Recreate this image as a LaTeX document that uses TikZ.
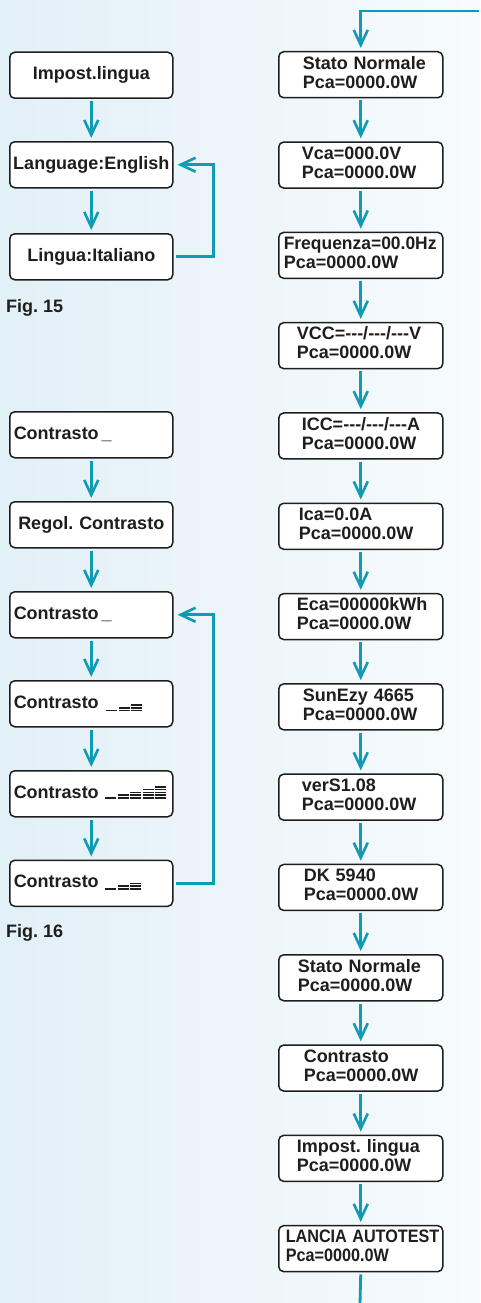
\documentclass[tikz,border=0pt]{standalone}
\usepackage{fontspec}
\setmainfont{Liberation Sans}
\usepackage{graphicx}
\usetikzlibrary{arrows.meta}
\definecolor{teal1}{RGB}{16,155,180}
\definecolor{bgL}{RGB}{226,240,247}
\definecolor{bgR}{RGB}{247,251,253}
\definecolor{ink}{RGB}{30,30,30}
\frenchspacing
\newcommand{\dsh}{\mbox{-}}
\newcommand{\tdsh}{\dsh\dsh\dsh}
\newcommand{\rtxt}[3]{\hspace*{#1pt}\begin{tabular}{@{}l@{}}#2\\#3\end{tabular}}
\newcommand{\ctbars}[3]{%
  \foreach \g in {1,...,#3}{%
    \foreach \k in {1,...,\g}{%
      \fill[ink] ({#1+(\g-1)*12.5},{#2-(\k-1)*2.8-0.8}) rectangle ++(11,1.6);
    }%
  }%
}
\begin{document}
\begin{tikzpicture}[x=1pt,y=-1pt,
  every node/.style={font=\fontsize{18}{19}\bfseries\selectfont, text=ink},
  box/.style={draw=ink, line width=1.5pt, fill=white, rounded corners=5pt,
    anchor=north west, minimum height=46pt, inner sep=0pt},
  cbox/.style={box, text width=163pt, align=center, text height=13pt, text depth=4.5pt},
  lbox/.style={box, text width=163pt, align=left, text height=13pt, text depth=4.5pt},
  rbox/.style={box, text width=164pt, align=left},
  figlab/.style={anchor=base west, inner sep=0pt},
  link/.style={draw=teal1, line width=2.8pt, line join=miter},
  arr/.style={link, -{Straight Barb[length=15pt,width=14pt,line width=2.6pt]},
    shorten <=2pt, shorten >=3pt}
]
\useasboundingbox (0,0) rectangle (480,1303);
\shade[left color=bgL, right color=bgR] (0,0) rectangle (480,1303);

% ---- Fig. 15
\node[cbox] (a1) at (9,51.5) {Impost.lingua};
\node[cbox] (a2) at (9,141) {Language:English};
\node[cbox] (a3) at (9,233) {Lingua:Italiano};
\node[figlab] (f15) at (6,312.5) {Fig. 15};
\draw[arr] (a1.south) -- (a2.north);
\draw[arr] (a2.south) -- (a3.north);
\draw[arr, shorten >=4pt] (a3.east) -- ++(40,0) |- (a2.east);

% ---- Fig. 16
\node[lbox] (c1) at (9,411) {\hspace*{4pt}Contrasto\,\_};
\node[cbox] (c2) at (9,501) {Regol. Contrasto};
\node[lbox] (c3) at (9,591) {\hspace*{4pt}Contrasto\,\_};
\node[lbox] (c4) at (9,680) {\hspace*{4pt}Contrasto};
\node[lbox] (c5) at (9,770) {\hspace*{4pt}Contrasto};
\node[lbox] (c6) at (9,859.5) {\hspace*{4pt}Contrasto};
\ctbars{106}{710.5}{3}
\ctbars{105}{798}{5}
\ctbars{105}{889}{3}
\node[figlab] (f16) at (6,937) {Fig. 16};
\draw[arr] (c1.south) -- (c2.north);
\draw[arr] (c2.south) -- (c3.north);
\draw[arr] (c3.south) -- (c4.north);
\draw[arr] (c4.south) -- (c5.north);
\draw[arr] (c5.south) -- (c6.north);
\draw[arr, shorten >=4pt] (c6.east) -- ++(40,0) |- (c3.east);

% ---- right column
\node[rbox] (r1) at (278,51) {\rtxt{24}{Stato Normale}{Pca=0000.0W}};
\node[rbox] (r2) at (278,141.3) {\rtxt{23}{Vca=000.0V}{Pca=0000.0W}};
\node[rbox] (r3) at (278,231.6) {\rtxt{5}{\scalebox{0.97}[1]{Frequenza=00.0Hz}}{Pca=0000.0W}};
\node[rbox] (r4) at (278,321.9) {\rtxt{18}{VCC=\tdsh/\tdsh/\tdsh V}{Pca=0000.0W}};
\node[rbox] (r5) at (278,412.2) {\rtxt{23}{ICC=\tdsh/\tdsh/\tdsh A}{Pca=0000.0W}};
\node[rbox] (r6) at (278,502.5) {\rtxt{20}{Ica=0.0A}{Pca=0000.0W}};
\node[rbox] (r7) at (278,592.8) {\rtxt{18}{Eca=00000kWh}{Pca=0000.0W}};
\node[rbox] (r8) at (278,683.1) {\rtxt{24}{SunEzy 4665}{Pca=0000.0W}};
\node[rbox] (r9) at (278,773.4) {\rtxt{23}{verS1.08}{Pca=0000.0W}};
\node[rbox] (r10) at (278,863.7) {\rtxt{25}{DK 5940}{Pca=0000.0W}};
\node[rbox] (r11) at (278,954) {\rtxt{19}{Stato Normale}{Pca=0000.0W}};
\node[rbox] (r12) at (278,1044.3) {\rtxt{25}{Contrasto}{Pca=0000.0W}};
\node[rbox] (r13) at (278,1134.6) {\rtxt{18}{Impost. lingua}{Pca=0000.0W}};
\node[rbox] (r14) at (278,1224.9) {\rtxt{7}{\scalebox{0.9}[1]{LANCIA AUTOTEST}}{\scalebox{0.9}[1]{Pca=0000.0W}}};

\coordinate (topin) at (481,11);
\coordinate (botout) at (360,1304);
\draw[arr] (topin) -| (r1.north);
\foreach \i [evaluate=\i as \j using int(\i+1)] in {1,...,13}{
  \draw[arr] (r\i.south) -- (r\j.north);
}
\draw[link, shorten <=2pt] (r14.south) -- (botout);
\end{tikzpicture}
\end{document}
